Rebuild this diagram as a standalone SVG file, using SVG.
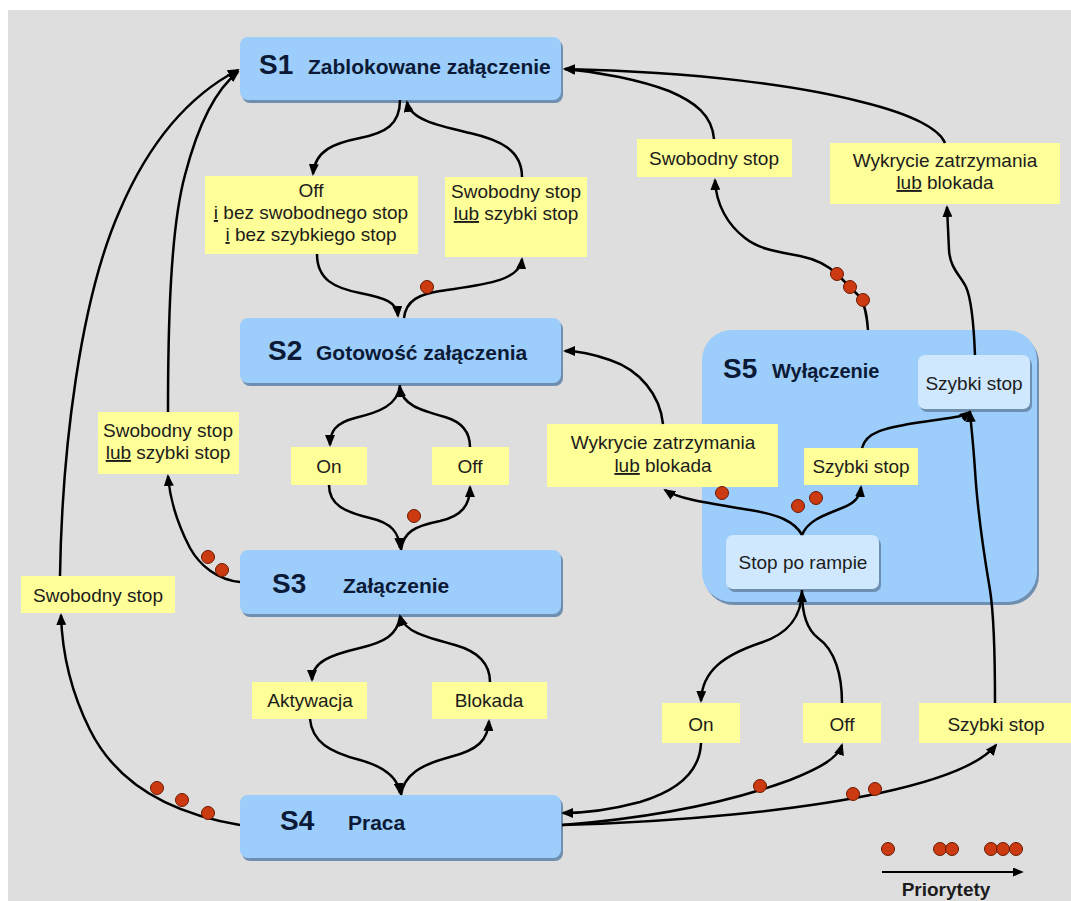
<svg xmlns="http://www.w3.org/2000/svg" width="1071" height="901" viewBox="0 0 1071 901">
  <defs>
    <marker id="ah" viewBox="0 0 12 10" refX="10" refY="5" markerWidth="12" markerHeight="10" markerUnits="userSpaceOnUse" orient="auto">
      <path d="M0,0 L12,5 L0,10 z" fill="#000"/>
    </marker>
    <marker id="ahs" viewBox="0 0 12 10" refX="10" refY="5" markerWidth="11" markerHeight="9" markerUnits="userSpaceOnUse" orient="auto">
      <path d="M0,0 L12,5 L0,10 z" fill="#000"/>
    </marker>
  </defs>
  <style>
    .state { fill: #9dcdfa; }
    .shadow { fill: #6f8fb0; }
    .sub { fill: #cfe8fd; }
    .label { fill: #ffff99; }
    .sid { font-family: "Liberation Sans", Arial, sans-serif; font-weight: bold; font-size: 28px; fill: #0b1a36; }
    .sname { font-family: "Liberation Sans", Arial, sans-serif; font-weight: bold; font-size: 21px; fill: #0b1a36; }
    .t { font-family: "Liberation Sans", Arial, sans-serif; font-size: 19px; fill: #1c1c1c; text-anchor: middle; }
    .u { text-decoration: underline; }
    .edge { fill: none; stroke: #000; stroke-width: 2.5; marker-end: url(#ah); }
    .dot { fill: #cc3a12; stroke: #6b1a00; stroke-width: 1; }
  </style>

  <!-- canvas -->
  <rect x="0" y="0" width="1071" height="901" fill="#ffffff"/>
  <rect x="8" y="10" width="1063" height="891" fill="#dedede"/>

  <!-- states -->
  <g id="s1">
    <rect class="shadow" x="242" y="40" width="321" height="63" rx="8"/>
    <rect class="state" x="240" y="37" width="321" height="63" rx="8"/>
    <text class="sid" x="259" y="74">S1</text>
    <text class="sname" x="308" y="74">Zablokowane załączenie</text>
  </g>
  <g id="s2">
    <rect class="shadow" x="242" y="321" width="321" height="65" rx="8"/>
    <rect class="state" x="240" y="318" width="321" height="65" rx="8"/>
    <text class="sid" x="268" y="360">S2</text>
    <text class="sname" x="316" y="360">Gotowość załączenia</text>
  </g>
  <g id="s3">
    <rect class="shadow" x="242" y="553" width="321" height="64" rx="8"/>
    <rect class="state" x="240" y="550" width="321" height="64" rx="8"/>
    <text class="sid" x="272" y="593">S3</text>
    <text class="sname" x="343" y="593">Załączenie</text>
  </g>
  <g id="s4">
    <rect class="shadow" x="242" y="798" width="321" height="63" rx="8"/>
    <rect class="state" x="240" y="795" width="321" height="63" rx="8"/>
    <text class="sid" x="280" y="830">S4</text>
    <text class="sname" x="348" y="830">Praca</text>
  </g>
  <g id="s5">
    <rect class="shadow" x="704" y="333" width="335" height="272" rx="30"/>
    <rect class="state" x="702" y="330" width="335" height="272" rx="30"/>
    <text class="sid" x="723" y="378">S5</text>
    <text class="sname" x="772" y="378" style="font-size:20px">Wyłączenie</text>
  </g>
  <g id="s5-fast-stop">
    <rect class="shadow" x="920" y="358" width="112" height="54" rx="7"/>
    <rect class="sub" x="918" y="355" width="112" height="54" rx="7"/>
    <text class="t" x="974" y="390">Szybki stop</text>
  </g>
  <g id="s5-ramp-stop">
    <rect class="shadow" x="728" y="538" width="153" height="54" rx="7"/>
    <rect class="sub" x="726" y="535" width="153" height="54" rx="7"/>
    <text class="t" x="803" y="569">Stop po rampie</text>
  </g>

  <!-- transition conditions -->
  <g id="c-off-s1s2">
    <rect class="label" x="205" y="176" width="213" height="78"/>
    <text class="t" x="311" y="197">Off</text>
    <text class="t" x="311" y="219"><tspan class="u">i</tspan> bez swobodnego stop</text>
    <text class="t" x="311" y="241"><tspan class="u">i</tspan> bez szybkiego stop</text>
  </g>
  <g id="c-stop-s2s1">
    <rect class="label" x="445" y="177" width="142" height="80"/>
    <text class="t" x="516" y="198">Swobodny stop</text>
    <text class="t" x="516" y="220"><tspan class="u">lub</tspan> szybki stop</text>
  </g>
  <g id="c-coast-s5s1">
    <rect class="label" x="637" y="139" width="155" height="38"/>
    <text class="t" x="714" y="165">Swobodny stop</text>
  </g>
  <g id="c-detect-s5s1">
    <rect class="label" x="830" y="143" width="230" height="61"/>
    <text class="t" x="945" y="167">Wykrycie zatrzymania</text>
    <text class="t" x="945" y="189"><tspan class="u">lub</tspan> blokada</text>
  </g>
  <g id="c-stop-s3s1">
    <rect class="label" x="98" y="412" width="141" height="62"/>
    <text class="t" x="168" y="437">Swobodny stop</text>
    <text class="t" x="168" y="459"><tspan class="u">lub</tspan> szybki stop</text>
  </g>
  <g id="c-coast-s4s1">
    <rect class="label" x="21" y="576" width="154" height="37"/>
    <text class="t" x="98" y="602">Swobodny stop</text>
  </g>
  <g id="c-on-s2s3">
    <rect class="label" x="291" y="447" width="76" height="38"/>
    <text class="t" x="329" y="473">On</text>
  </g>
  <g id="c-off-s3s2">
    <rect class="label" x="432" y="447" width="77" height="38"/>
    <text class="t" x="470" y="473">Off</text>
  </g>
  <g id="c-detect-s5s2">
    <rect class="label" x="547" y="424" width="231" height="63"/>
    <text class="t" x="663" y="449">Wykrycie zatrzymania</text>
    <text class="t" x="663" y="472"><tspan class="u">lub</tspan> blokada</text>
  </g>
  <g id="c-fast-in-s5">
    <rect class="label" x="804" y="448" width="114" height="37"/>
    <text class="t" x="861" y="473">Szybki stop</text>
  </g>
  <g id="c-activate">
    <rect class="label" x="252" y="682" width="115" height="37"/>
    <text class="t" x="310" y="707">Aktywacja</text>
  </g>
  <g id="c-block">
    <rect class="label" x="432" y="682" width="115" height="37"/>
    <text class="t" x="489" y="707">Blokada</text>
  </g>
  <g id="c-on-s5s4">
    <rect class="label" x="662" y="703" width="78" height="40"/>
    <text class="t" x="701" y="731">On</text>
  </g>
  <g id="c-off-s4s5">
    <rect class="label" x="803" y="703" width="78" height="40"/>
    <text class="t" x="842" y="731">Off</text>
  </g>
  <g id="c-fast-s4s5">
    <rect class="label" x="919" y="703" width="152" height="40"/>
    <text class="t" x="996" y="731">Szybki stop</text>
  </g>

  <!-- connectors -->
  <g id="connectors">
    <path class="edge" d="M400,100 C400,125 385,133 360,138 C335,143 315,150 313,174"/>
    <path class="edge" d="M522,177 C522,150 500,140 470,133 C440,126 410,120 407,102"/>
    <path class="edge" d="M317,254 C317,280 335,288 360,293 C385,298 397,302 398,316"/>
    <path class="edge" d="M404,318 C406,300 420,294 440,291 C480,285 520,282 522,259"/>

    <path class="edge" d="M400,385 C398,405 380,412 355,418 C335,423 330,432 330,445"/>
    <path class="edge" d="M470,447 C470,432 462,422 445,417 C420,410 402,405 400,387"/>
    <path class="edge" d="M329,485 C329,505 345,512 370,518 C392,523 399,533 400,548"/>
    <path class="edge" d="M401,550 C403,532 415,526 440,521 C462,516 470,505 470,487"/>

    <path class="edge" d="M400,617 C397,635 385,642 360,648 C330,655 312,662 312,680"/>
    <path class="edge" d="M490,682 C490,665 480,652 455,645 C425,637 405,632 400,616"/>
    <path class="edge" d="M310,719 C312,742 330,752 360,760 C385,767 398,778 400,793"/>
    <path class="edge" d="M401,795 C404,775 420,765 450,757 C478,750 488,740 489,721"/>

    <path class="edge" d="M240,825 C180,815 120,790 90,730 C70,690 62,650 61,615"/>
    <path class="edge" d="M60,576 C62,450 80,300 120,210 C150,140 190,95 238,70"/>
    <path class="edge" d="M168,412 C168,330 170,230 185,175 C198,125 215,90 238,72"/>
    <path class="edge" d="M240,582 C218,580 200,566 190,548 C178,525 170,500 168,476"/>

    <path class="edge" d="M714,139 C712,115 695,102 669,91 C640,80 600,72 565,69"/>
    <path class="edge" d="M945,143 C940,130 915,115 862,102 C800,86 700,72 565,69"/>
    <path class="edge" d="M868,330 C867,318 866,308 861,298 L838,275 C828,265 815,259 800,256 C780,252 760,250 745,238 C728,225 716,205 715,180"/>
    <path class="edge" d="M975,355 C974,330 972,300 966,287 C960,275 950,268 949,250 L947,207"/>

    <path class="edge" d="M663,424 C660,395 640,370 610,360 C590,353 575,351 565,351"/>
    <path class="edge" d="M802,535 C795,522 780,515 750,510 C715,504 680,500 665,490"/>
    <path class="edge" d="M802,535 C808,520 825,515 842,508 C855,503 860,497 861,487"/>
    <path class="edge" d="M862,448 C866,432 885,428 915,423 C945,418 962,418 970,412"/>
    <path class="edge" d="M995,703 C995,660 994,615 990,590 C985,560 978,520 975,470 C973,440 971,425 970,412"/>

    <path class="edge" d="M802,590 C802,620 785,635 760,643 C725,655 702,670 701,701"/>
    <path class="edge" d="M842,703 C842,675 835,650 818,638 C805,628 802,610 802,592"/>
    <path class="edge" d="M701,743 C700,770 680,790 640,802 C610,810 585,813 563,813"/>
    <path class="edge" d="M562,825 C650,818 730,802 790,780 C820,768 838,758 842,745"/>
    <path class="edge" d="M562,825 C680,822 800,810 880,793 C940,780 980,765 996,745"/>
  </g>

  <!-- priority markers -->
  <g id="priority-dots">
    <circle class="dot" cx="427" cy="287" r="6.5"/>
    <circle class="dot" cx="414" cy="516" r="6.5"/>
    <circle class="dot" cx="208" cy="557" r="6.5"/>
    <circle class="dot" cx="222" cy="570" r="6.5"/>
    <circle class="dot" cx="157" cy="788" r="6.5"/>
    <circle class="dot" cx="182" cy="800" r="6.5"/>
    <circle class="dot" cx="208" cy="813" r="6.5"/>
    <circle class="dot" cx="837" cy="274" r="6.5"/>
    <circle class="dot" cx="850" cy="287" r="6.5"/>
    <circle class="dot" cx="863" cy="300" r="6.5"/>
    <circle class="dot" cx="722" cy="493" r="6.5"/>
    <circle class="dot" cx="798" cy="506" r="6.5"/>
    <circle class="dot" cx="816" cy="498" r="6.5"/>
    <circle class="dot" cx="760" cy="786" r="6.5"/>
    <circle class="dot" cx="853" cy="794" r="6.5"/>
    <circle class="dot" cx="875" cy="789" r="6.5"/>
  </g>

  <!-- legend -->
  <g id="legend">
    <circle class="dot" cx="888" cy="849" r="6.5"/>
    <circle class="dot" cx="940" cy="849" r="6.5"/>
    <circle class="dot" cx="952" cy="849" r="6.5"/>
    <circle class="dot" cx="991" cy="849" r="6.5"/>
    <circle class="dot" cx="1003" cy="849" r="6.5"/>
    <circle class="dot" cx="1016" cy="849" r="6.5"/>
    <path d="M882,872 L1022,872" fill="none" stroke="#000" stroke-width="2" marker-end="url(#ahs)"/>
    <text x="946" y="896" text-anchor="middle" style="font-family:'Liberation Sans', Arial, sans-serif; font-weight:bold; font-size:19px; fill:#1c1c1c">Priorytety</text>
  </g>
</svg>
